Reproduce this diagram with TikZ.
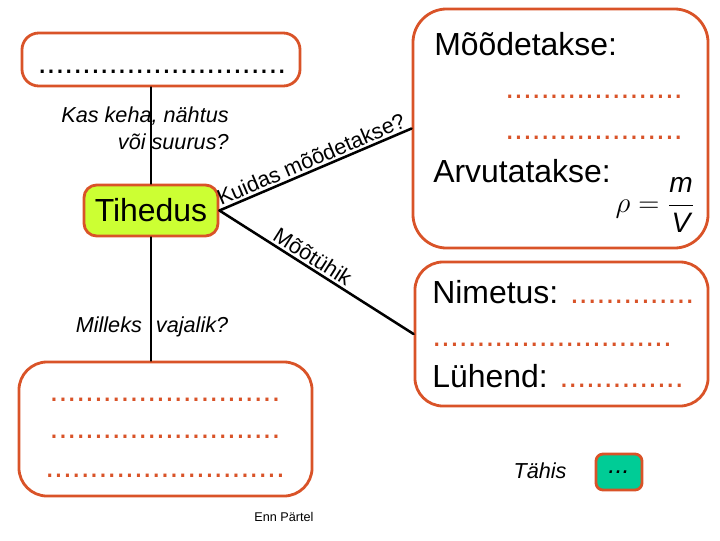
\documentclass[tikz,border=0pt]{standalone}
\usepackage{fontspec}
\setmainfont{Liberation Sans}
\definecolor{orred}{RGB}{217,83,40}
\definecolor{limefill}{RGB}{204,255,51}
\definecolor{tealfill}{RGB}{0,204,150}
\tikzset{
  box/.style={draw=orred, line width=2pt, fill=white, rounded corners=#1, inner sep=0pt},
  conn/.style={line width=1.8pt},
  big/.style={font=\fontsize{22.7}{26}\selectfont},
  ask/.style={font=\fontsize{15.4}{19}\selectfont\itshape},
  edge label/.style={font=\fontsize{15.4}{19}\selectfont, sloped, above, inner sep=1.5pt},
  fillin/.style={big, text=orred, anchor=base west, inner sep=0pt}
}
\begin{document}
\begin{tikzpicture}[x=0.025cm,y=-0.025cm,line cap=round,line join=round]
  \useasboundingbox (0,0) rectangle (720,540);
  % boxes
  \node[box=12pt, minimum width=6.95cm, minimum height=1.325cm] (qbox) at (161,59.5) {};
  \node[box=9pt, fill=limefill, minimum width=3.35cm, minimum height=1.275cm, big] (tihedus) at (151,210.5) {Tihedus};
  \node[box=20pt, minimum width=7.325cm, minimum height=3.35cm] (usebox) at (165.5,429) {};
  \node[box=24pt, minimum width=7.375cm, minimum height=5.975cm] (mbox) at (560.5,128.5) {};
  \node[box=20pt, minimum width=7.325cm, minimum height=3.6cm] (nbox) at (561.5,334) {};
  \node[box=5pt, fill=tealfill, minimum width=1.15cm, minimum height=0.9cm, font=\fontsize{18}{20}\selectfont\itshape] (tbox) at (619,472) {...};
  % connectors
  \draw[conn] (tihedus.north) -- (tihedus.north |- qbox.south);
  \draw[conn] (tihedus.south) -- (tihedus.south |- usebox.north);
  \draw[conn] (tihedus.east) -- node[edge label, pos=0.5] {Kuidas mõõdetakse?} (mbox.west);
  \draw[conn] (tihedus.east) -- node[edge label, pos=0.45] {Mõõtühik} (nbox.west);
  % texts
  \node[big, anchor=base, inner sep=0pt] (qdots) at (162,73) {............................};
  \node[ask, align=right] (kas) at (145,128) {Kas keha, nähtus\\või suurus?};
  \node[ask] (milleks) at (152,327) {Milleks\hspace{0.65em}vajalik?};
  \node[fillin, anchor=base] (udots1) at (165,401) {..........................};
  \node[fillin, anchor=base] (udots2) at (165,438) {..........................};
  \node[fillin, anchor=base] (udots3) at (165,477) {...........................};
  \node[big, anchor=base west, inner sep=0pt] (mtext) at (434,55) {Mõõdetakse:};
  \node[fillin] (mdots1) at (505,98) {....................};
  \node[fillin] (mdots2) at (505,139) {....................};
  \node[big, anchor=base west, inner sep=0pt] (atext) at (433,182) {Arvutatakse:};
  \node[font=\fontsize{20}{22}\selectfont] (formula) at (655,205) {$\displaystyle\rho=\frac{\textit{m}}{\textit{V}}$};
  \node[big, anchor=base west, inner sep=0pt] (ntext) at (432,303) {Nimetus: \textcolor{orred}{..............}};
  \node[fillin] (ndots) at (432,346) {...........................};
  \node[big, anchor=base west, inner sep=0pt] (ltext) at (432,387) {Lühend: \textcolor{orred}{..............}};
  \node[ask] (tahis) at (540,471) {Tähis};
  \node[font=\fontsize{9}{11}\selectfont] (author) at (284,517) {Enn Pärtel};
\end{tikzpicture}
\end{document}
